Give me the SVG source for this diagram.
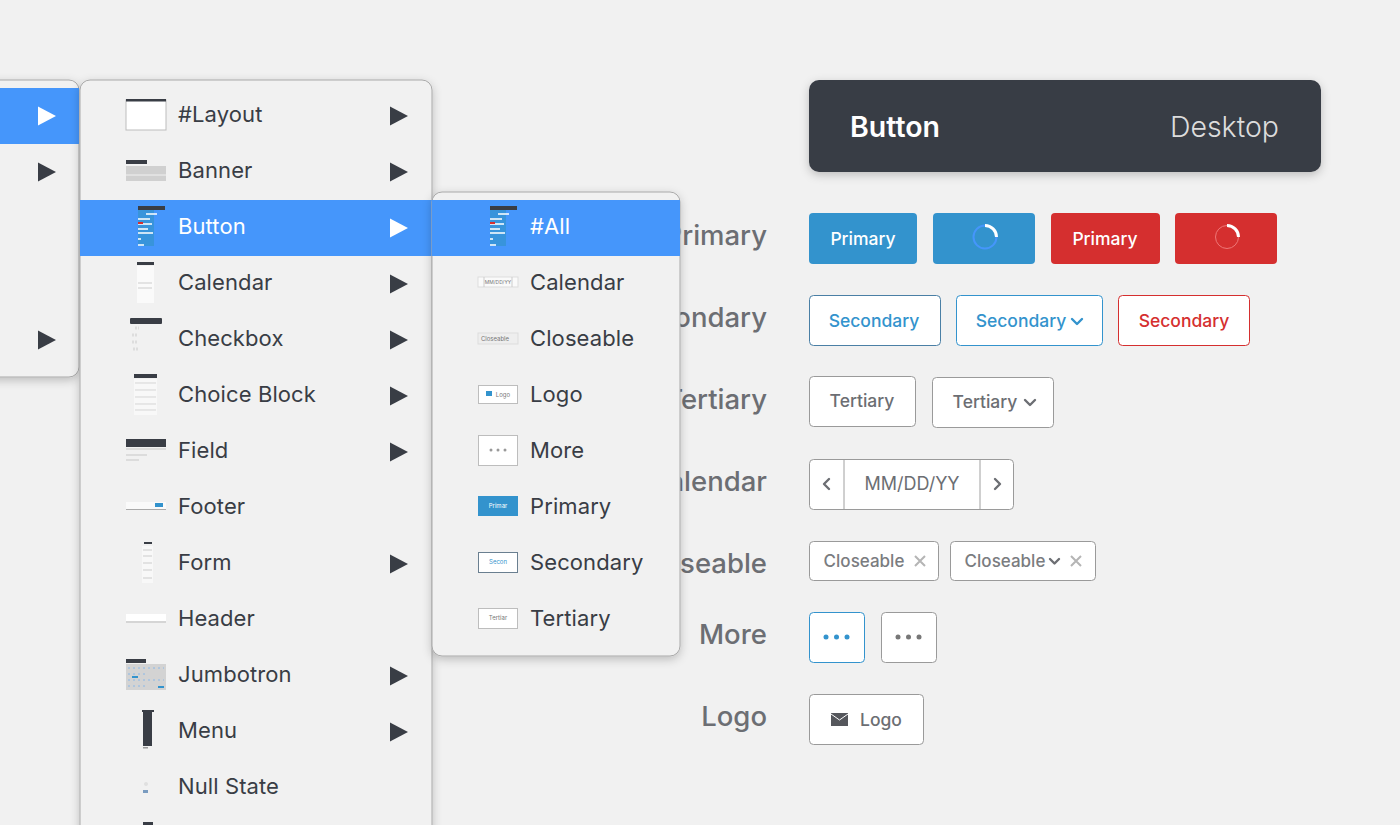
<svg xmlns="http://www.w3.org/2000/svg" width="1400" height="825" viewBox="0 0 1400 825">
<defs>
<style>
text{font-family:Inter,"Liberation Sans",sans-serif}
.m{font-size:22px;fill:#393d45;letter-spacing:.1px}
.w{fill:#fff}
.lab{font-size:27.500px;fill:#6c6e73;text-anchor:end;font-weight:500}
.menu{fill:#f1f1f1;stroke:#a9a9a9;stroke-width:1}
.hl{fill:#4596fb}
.ar{fill:#393d45}
.ar.w{fill:#fff}
.b{font-size:17.500px;font-weight:500;text-anchor:middle}
.c{font-size:17px;font-weight:500;text-anchor:middle}
.btn{fill:#fff;stroke:#9a9a9a;stroke-width:1}
.blue{fill:#3393cd}
.red{fill:#d52f2f}
.chev{fill:none;stroke-width:2.400;stroke-linecap:round;stroke-linejoin:round}
.t{fill:#fff;stroke:#bdbdbd;stroke-width:1}
.d{fill:#393d45}
.g{fill:#d0d0d0}
.tiny{font-size:6px;text-anchor:middle;fill:#777}
</style>
<filter id="sh" x="-20%" y="-20%" width="140%" height="140%"><feDropShadow dx="0" dy="3" stdDeviation="5" flood-color="#000" flood-opacity=".22"/></filter>
<path id="a" d="M0 0L18 9.500L0 19Z"/>
</defs>
<rect id="bg" width="1400" height="825" fill="#f1f1f1"/>

<g id="labels">
<text class="lab" x="767" y="245">Primary</text>
<text class="lab" x="767" y="327">Secondary</text>
<text class="lab" x="767" y="409">Tertiary</text>
<text class="lab" x="767" y="491">Calendar</text>
<text class="lab" x="767" y="573">Closeable</text>
<text class="lab" x="767" y="644">More</text>
<text class="lab" x="767" y="726">Logo</text>
</g>

<g id="header">
<rect x="809" y="80" width="512" height="92" rx="10" fill="#393d45" filter="url(#sh)"/>
<text x="850" y="137" font-size="28.500" font-weight="600" fill="#fff">Button</text>
<text x="1279" y="137" font-size="28.500" font-weight="300" fill="#dcdcdc" text-anchor="end">Desktop</text>
</g>

<g id="primary-row">
<rect class="blue" x="809" y="213" width="108" height="51" rx="4"/>
<text class="b w" x="863" y="245">Primary</text>
<rect class="blue" x="933" y="213" width="102" height="51" rx="4"/>
<circle cx="985" cy="237" r="11.500" fill="none" stroke="#4596fb" stroke-width="2"/>
<path d="M985 225.500A11.500 11.500 0 0 1 996.500 237" fill="none" stroke="#fff" stroke-width="3"/>
<rect class="red" x="1051" y="213" width="109" height="51" rx="4"/>
<text class="b w" x="1105" y="245">Primary</text>
<rect class="red" x="1175" y="213" width="102" height="51" rx="4"/>
<circle cx="1227" cy="237" r="11.500" fill="none" stroke="#e77" stroke-width="1"/>
<path d="M1227 225.500A11.500 11.500 0 0 1 1238.500 237" fill="none" stroke="#fff" stroke-width="3"/>
</g>

<g id="secondary-row">
<rect class="btn" x="809.500" y="295.500" width="131" height="50" rx="4" style="stroke:#4a7fa5"/>
<text class="b" x="874" y="327" fill="#3393cd">Secondary</text>
<rect class="btn" x="956.500" y="295.500" width="146" height="50" rx="4" style="stroke:#3393cd"/>
<text class="b" x="1021" y="327" fill="#3393cd">Secondary</text>
<path class="chev" d="M1072 319l5 5 5-5" stroke="#3393cd"/>
<rect class="btn" x="1118.500" y="295.500" width="131" height="50" rx="4" style="stroke:#d52f2f"/>
<text class="b" x="1184" y="327" fill="#d52f2f">Secondary</text>
</g>

<g id="tertiary-row">
<rect class="btn" x="809.500" y="376.500" width="106" height="50" rx="4"/>
<text class="b" x="862" y="407" fill="#6c6e73">Tertiary</text>
<rect class="btn" x="932.500" y="377.500" width="121" height="50" rx="4"/>
<text class="b" x="985" y="408" fill="#6c6e73">Tertiary</text>
<path class="chev" d="M1025 400l5 5 5-5" stroke="#6c6e73"/>
</g>

<g id="calendar-row">
<rect class="btn" x="809.500" y="459.500" width="204" height="50" rx="4"/>
<path d="M844 460V509M980 460V509" stroke="#a0a0a0" fill="none"/>
<path class="chev" d="M829 479l-5 5 5 5" stroke="#6c6e73"/>
<path class="chev" d="M995 479l5 5-5 5" stroke="#6c6e73"/>
<text x="912" y="490" fill="#6c6e73" font-size="18" text-anchor="middle">MM/DD/YY</text>
</g>

<g id="closeable-row">
<rect class="btn" x="809.500" y="541.500" width="129" height="39" rx="4"/>
<text class="c" x="864" y="567" fill="#7a7c80">Closeable</text>
<path d="M915 556l10 10M925 556l-10 10" stroke="#b5b5b5" stroke-width="2" fill="none"/>
<rect class="btn" x="950.500" y="541.500" width="145" height="39" rx="4"/>
<text class="c" x="1005" y="567" fill="#7a7c80">Closeable</text>
<path class="chev" d="M1050 559l4.500 4.500 4.500-4.500" stroke="#6c6e73"/>
<path d="M1071 556l10 10M1081 556l-10 10" stroke="#b5b5b5" stroke-width="2" fill="none"/>
</g>

<g id="more-row">
<rect class="btn" x="809.500" y="612.500" width="55" height="50" rx="4" style="stroke:#3393cd"/>
<circle cx="826" cy="637" r="2.500" fill="#3393cd"/><circle cx="836.500" cy="637" r="2.500" fill="#3393cd"/><circle cx="847" cy="637" r="2.500" fill="#3393cd"/>
<rect class="btn" x="881.500" y="612.500" width="55" height="50" rx="4"/>
<circle cx="898" cy="637" r="2.500" fill="#777"/><circle cx="908.500" cy="637" r="2.500" fill="#777"/><circle cx="919" cy="637" r="2.500" fill="#777"/>
</g>

<g id="logo-row">
<rect class="btn" x="809.500" y="694.500" width="114" height="50" rx="4"/>
<rect x="831" y="713" width="17" height="13" fill="#55575c"/>
<path d="M831 714l8.500 6 8.500-6" fill="none" stroke="#fff" stroke-width="1"/>
<text class="b" x="881" y="726" fill="#6c6e73">Logo</text>
</g>

<g id="menu-left">
<rect class="menu" x="-20" y="80" width="99" height="297" rx="10" filter="url(#sh)"/>
<rect class="hl" x="0" y="88" width="79" height="56"/>
<use href="#a" class="ar w" x="38" y="106.500"/>
<use href="#a" class="ar" x="38" y="162.500"/>
<use href="#a" class="ar" x="38" y="330.500"/>
</g>

<g id="menu-main">
<rect class="menu" x="80" y="80" width="352" height="800" rx="10" filter="url(#sh)"/>
<rect class="hl" x="80" y="200" width="352" height="56"/>

<g id="item-layout"><rect class="t" x="126" y="100" width="40" height="30"/><rect class="d" x="126" y="99" width="40" height="2.500"/><text class="m" x="178" y="122">#Layout</text><use href="#a" class="ar" x="390" y="106.500"/></g>
<g id="item-banner"><rect class="g" x="126" y="166" width="40" height="15"/><rect class="d" x="126" y="160" width="21" height="4"/><path d="M126 175H166" stroke="#f1f1f1"/><text class="m" x="178" y="178">Banner</text><use href="#a" class="ar" x="390" y="162.500"/></g>
<g id="item-button"><rect x="138" y="206" width="27" height="4" class="d"/><rect x="138" y="210" width="16" height="36" fill="#3393cd" opacity=".7"/><path d="M146 214h11M138 219h12M138 224h14M138 229h10M138 233h15M138 239h3M138 245h6" stroke="#fff" stroke-width="1.500"/><rect x="138" y="222" width="5" height="2" fill="#d52f2f"/><text class="m w" x="178" y="234">Button</text><use href="#a" class="ar w" x="390" y="218.500"/></g>
<g id="item-calendar"><rect class="d" x="137" y="262" width="17" height="3"/><rect x="137" y="266" width="17" height="37" fill="#fafafa"/><path d="M138 283h14M138 288h14" stroke="#ccc"/><text class="m" x="178" y="290">Calendar</text><use href="#a" class="ar" x="390" y="274.500"/></g>
<g id="item-checkbox"><rect class="d" x="130" y="318" width="32" height="6" rx="1"/><path d="M135 328h4M132 335h6M132 342h6M133 349h5" stroke="#ddd" stroke-width="3" stroke-dasharray="2 1"/><text class="m" x="178" y="346">Checkbox</text><use href="#a" class="ar" x="390" y="330.500"/></g>
<g id="item-choice"><rect class="d" x="134" y="374" width="23" height="4"/><rect x="134" y="379" width="23" height="36" fill="#f8f8f8"/><path d="M135 383h21M135 390h21M135 397h21M135 404h21M135 410h21" stroke="#d5d5d5"/><text class="m" x="178" y="402">Choice Block</text><use href="#a" class="ar" x="390" y="386.500"/></g>
<g id="item-field"><rect class="d" x="126" y="439" width="40" height="8"/><path d="M126 449h40M126 455h21M126 460h13" stroke="#d5d5d5" stroke-width="1.500"/><text class="m" x="178" y="458">Field</text><use href="#a" class="ar" x="390" y="442.500"/></g>
<g id="item-footer"><rect x="126" y="502" width="40" height="7" fill="#fafafa"/><path d="M126 509.500h40" stroke="#aaa"/><rect x="155" y="503" width="8" height="4" fill="#3393cd"/><text class="m" x="178" y="514">Footer</text></g>
<g id="item-form"><rect class="d" x="144" y="542" width="8" height="2"/><rect x="142" y="546" width="11" height="37" fill="#f8f8f8"/><path d="M143 550h9M143 556h9M143 563h9M143 570h9M143 578h9" stroke="#ccc"/><text class="m" x="178" y="570">Form</text><use href="#a" class="ar" x="390" y="554.500"/></g>
<g id="item-header"><rect x="126" y="614" width="40" height="7" fill="#fff"/><rect x="126" y="621" width="40" height="2" fill="#d5d5d5"/><text class="m" x="178" y="626">Header</text></g>
<g id="item-jumbotron"><rect class="d" x="126" y="659" width="20" height="4"/><rect x="126" y="664" width="40" height="26" fill="#d3d3d3"/><path d="M128 668h36M128 674h20M128 680h36M128 686h20" stroke="#8ab8e8" stroke-dasharray="2 3"/><rect x="132" y="676" width="6" height="2" fill="#3393cd"/><rect x="158" y="686" width="6" height="2" fill="#3393cd"/><text class="m" x="178" y="682">Jumbotron</text><use href="#a" class="ar" x="390" y="666.500"/></g>
<g id="item-menu"><rect class="d" x="142" y="710" width="12" height="2"/><rect class="d" x="143" y="712" width="9" height="34"/><rect x="143" y="747" width="5" height="1.500" fill="#999"/><text class="m" x="178" y="738">Menu</text><use href="#a" class="ar" x="390" y="722.500"/></g>
<g id="item-null"><rect x="143" y="790" width="5" height="3" fill="#7a9cc0"/><circle cx="146" cy="784" r="2" fill="#e0e0e0"/><text class="m" x="178" y="794">Null State</text></g>
<rect class="d" x="143" y="822" width="10" height="3"/>
</g>

<g id="menu-sub">
<rect class="menu" x="432" y="192" width="248" height="464" rx="10" filter="url(#sh)"/>
<rect class="hl" x="432" y="200" width="248" height="56"/>
<g id="sub-all"><rect class="d" x="490" y="206" width="27" height="4"/><rect x="490" y="210" width="16" height="36" fill="#3393cd" opacity=".7"/><path d="M498 214h11M490 219h12M490 224h14M490 229h10M490 233h15M490 239h3M490 245h6" stroke="#fff" stroke-width="1.500"/><rect x="490" y="222" width="5" height="2" fill="#d52f2f"/><text class="m w" x="530" y="234">#All</text></g>
<g id="sub-calendar"><rect x="478" y="277" width="40" height="10" fill="#fafafa" stroke="#ddd"/><path d="M484 277v10M512 277v10" stroke="#ccc"/><text class="tiny" x="498" y="284" style="font-size:5px">MM/DD/YY</text><text class="m" x="530" y="290">Calendar</text></g>
<g id="sub-closeable"><rect x="478" y="333" width="40" height="11" fill="#eee" stroke="#ddd"/><text class="tiny" x="495" y="341">Closeable</text><text class="m" x="530" y="346">Closeable</text></g>
<g id="sub-logo"><rect class="t" x="478.500" y="385.500" width="39" height="18"/><rect x="486" y="391" width="6" height="5" fill="#3393cd"/><text class="tiny" x="503" y="397">Logo</text><text class="m" x="530" y="402">Logo</text></g>
<g id="sub-more"><rect class="t" x="478.500" y="435.500" width="39" height="30"/><circle cx="491" cy="450" r="1.500" fill="#999"/><circle cx="498" cy="450" r="1.500" fill="#999"/><circle cx="505" cy="450" r="1.500" fill="#999"/><text class="m" x="530" y="458">More</text></g>
<g id="sub-primary"><rect class="blue" x="478" y="496" width="40" height="20"/><text class="tiny" x="498" y="508" style="fill:#fff">Primar</text><text class="m" x="530" y="514">Primary</text></g>
<g id="sub-secondary"><rect class="t" x="478.500" y="552.500" width="39" height="20" style="stroke:#6a7f90"/><text class="tiny" x="498" y="564" style="fill:#3393cd">Secon</text><text class="m" x="530" y="570">Secondary</text></g>
<g id="sub-tertiary"><rect class="t" x="478.500" y="608.500" width="39" height="20"/><text class="tiny" x="498" y="620">Tertiar</text><text class="m" x="530" y="626">Tertiary</text></g>
</g>
</svg>
